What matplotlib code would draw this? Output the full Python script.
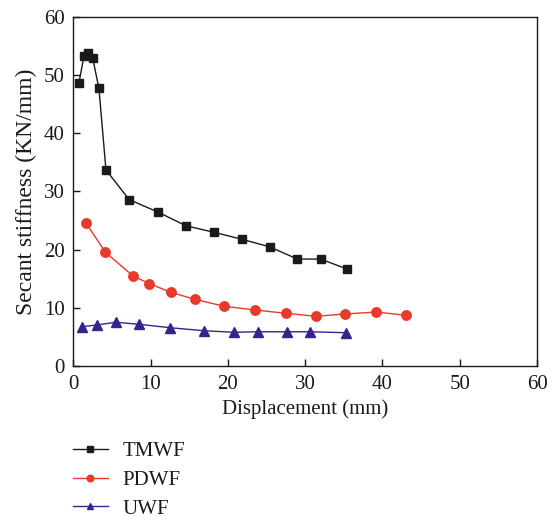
import matplotlib
matplotlib.use("Agg")
import matplotlib.pyplot as plt

tmwf_x = [0.74, 1.38, 1.90, 2.51, 3.32, 4.23, 7.24, 10.9, 14.6, 18.2, 21.8, 25.4, 29.0, 32.0, 35.4]
tmwf_y = [48.7, 53.2, 53.7, 52.9, 47.7, 33.7, 28.6, 26.5, 24.1, 23.0, 21.8, 20.5, 18.4, 18.4, 16.7]

pdwf_x = [1.64, 4.14, 7.72, 9.83, 12.6, 15.7, 19.5, 23.5, 27.5, 31.4, 35.2, 39.2, 43.1]
pdwf_y = [24.6, 19.6, 15.5, 14.2, 12.7, 11.5, 10.3, 9.66, 9.09, 8.58, 8.97, 9.31, 8.75]

uwf_x = [1.16, 3.03, 5.52, 8.54, 12.5, 16.9, 20.8, 23.9, 27.6, 30.6, 35.3]
uwf_y = [6.79, 7.08, 7.55, 7.2, 6.62, 6.1, 5.83, 5.92, 5.92, 5.92, 5.76]

x_ticks = [0, 10, 20, 30, 40, 50, 60]
y_ticks = [0, 10, 20, 30, 40, 50, 60]

plt.rcParams['font.family'] = ['Liberation Serif', 'DejaVu Serif']

fig = plt.figure(figsize=(5.55, 5.21), dpi=100)
ax = fig.add_axes([0.132, 0.297, 0.8356, 0.671])

l1, = ax.plot(tmwf_x, tmwf_y, color='#1a1a1a', lw=1.0, marker='s', ms=5.5, label='TMWF')
l2, = ax.plot(pdwf_x, pdwf_y, color='#e8392a', lw=1.0, marker='o', ms=6.8, label='PDWF')
l3, = ax.plot(uwf_x, uwf_y, color='#35238e', lw=1.0, marker='^', ms=7, label='UWF')

ax.set_xlim(0, 60)
ax.set_ylim(0, 60)
ax.set_xticks(x_ticks)
ax.set_yticks(y_ticks)
ax.tick_params(direction='in', length=5, width=1, labelsize=15, pad=6, colors='#1a1a1a')
for s in ax.spines.values():
    s.set_linewidth(1.0)
    s.set_color('#1a1a1a')
ax.set_xlabel('Displacement (mm)', fontsize=15, labelpad=4, color='#1a1a1a')
ax.set_ylabel('Secant stiffness (KN/mm)', fontsize=17, labelpad=5, color='#1a1a1a')

leg = fig.legend(handles=[l1, l2, l3], loc='upper left', bbox_to_anchor=(0.097, 0.189),
                 frameon=False, fontsize=15, handlelength=1.7, handletextpad=0.7,
                 labelspacing=0.45, markerscale=0.7)
for t in leg.get_texts():
    t.set_color('#1a1a1a')

fig.savefig('out.png', dpi=100)
